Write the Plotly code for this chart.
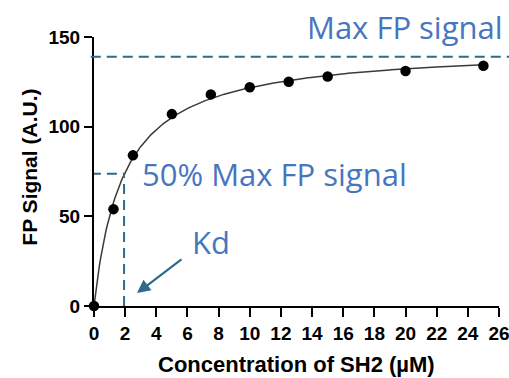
import numpy as np
import plotly.graph_objects as go

# Data
conc = [0, 1.25, 2.5, 5, 7.5, 10, 12.5, 15, 20, 25]
fp = [0, 54, 84, 107, 118, 122, 125, 128, 131, 134]
x_ticks = list(range(0, 27, 2))
y_ticks = [0, 50, 100, 150]
max_signal = 139
half_signal = 73.7
kd_x = 1.93

# One-site binding fit (Bmax*x/(Kd+x)) estimated from the data
xa = np.array(conc, float)
ya = np.array(fp, float)
best = None
for kd in np.linspace(0.5, 5, 901):
    g = xa / (kd + xa)
    bmax = (g @ ya) / (g @ g)
    err = np.sum((ya - bmax * g) ** 2)
    if best is None or err < best[0]:
        best = (err, kd, bmax)
_, KD, BMAX = best
xf = np.linspace(0, 25, 300)
yf = BMAX * xf / (KD + xf)

blue_text = "#4676c0"
dash_col = "#2f6a8c"

fig = go.Figure()
fig.add_trace(go.Scatter(x=xf, y=yf, mode="lines",
                         line=dict(color="#3a3a3a", width=1.5),
                         hoverinfo="skip", cliponaxis=False))
fig.add_trace(go.Scatter(x=conc, y=fp, mode="markers",
                         marker=dict(color="black", size=10.5),
                         cliponaxis=False))

dash = "10px,6px"
fig.add_shape(type="line", xref="paper", yref="y", x0=-0.008, x1=1.03,
              y0=max_signal, y1=max_signal,
              line=dict(color=dash_col, width=2, dash=dash))
fig.add_shape(type="line", xref="x", yref="y", x0=-0.2, x1=kd_x,
              y0=half_signal, y1=half_signal,
              line=dict(color=dash_col, width=2, dash=dash))
fig.add_shape(type="line", xref="x", yref="y", x0=kd_x, x1=kd_x,
              y0=0, y1=half_signal,
              line=dict(color=dash_col, width=2, dash=dash))

afont = dict(family="Open Sans", size=31, color=blue_text)
fig.add_annotation(x=1.014, y=155.7 / 150, xref="paper", yref="paper",
                   text="Max FP signal", showarrow=False,
                   xanchor="right", yanchor="middle", font=afont)
fig.add_annotation(x=2.95, y=73.8, xref="x", yref="y", text="50% Max FP signal",
                   showarrow=False, xanchor="left", yanchor="middle", font=afont)
fig.add_annotation(x=6.16, y=35.7, xref="x", yref="y", text="Kd",
                   showarrow=False, xanchor="left", yanchor="middle", font=afont)
fig.add_annotation(x=2.76, y=7.2, ax=5.71, ay=26.7, xref="x", yref="y",
                   axref="x", ayref="y", text="", showarrow=True,
                   arrowhead=2, arrowsize=1.2, arrowwidth=2.2, arrowcolor=dash_col)

tickfont = dict(family="Liberation Sans", size=19, color="black", weight="bold")
xtitlefont = dict(family="Liberation Sans", size=22, color="black", weight="bold")
ytitlefont = dict(family="Liberation Sans", size=21, color="black", weight="bold")

# Axis titles
fig.add_annotation(x=0.5, y=-0.219, xref="paper", yref="paper",
                   text="Concentration of SH2 (µM)", showarrow=False,
                   xanchor="center", yanchor="middle", font=xtitlefont)
fig.add_annotation(x=-0.160, y=0.515, xref="paper", yref="paper",
                   text="FP Signal (A.U.)", showarrow=False, textangle=-90,
                   xanchor="center", yanchor="middle", font=ytitlefont)

fig.update_layout(
    width=509, height=378,
    margin=dict(l=94, r=10, t=37, b=72),
    paper_bgcolor="white", plot_bgcolor="white",
    showlegend=False,
    xaxis=dict(range=[0, 26], tickvals=x_ticks, ticks="outside", ticklen=9,
               tickwidth=2, tickcolor="black", showline=True, linecolor="black",
               linewidth=2, showgrid=False, zeroline=False, tickfont=tickfont,
               layer="below traces", automargin=False, ticklabeloverflow="allow"),
    yaxis=dict(range=[0, 150], tickvals=y_ticks, ticks="outside", ticklen=8,
               tickwidth=2, tickcolor="black", showline=True, linecolor="black",
               linewidth=2, showgrid=False, zeroline=False, tickfont=tickfont,
               layer="below traces", automargin=False, ticklabeloverflow="allow"),
)

fig.write_html("out.html")
